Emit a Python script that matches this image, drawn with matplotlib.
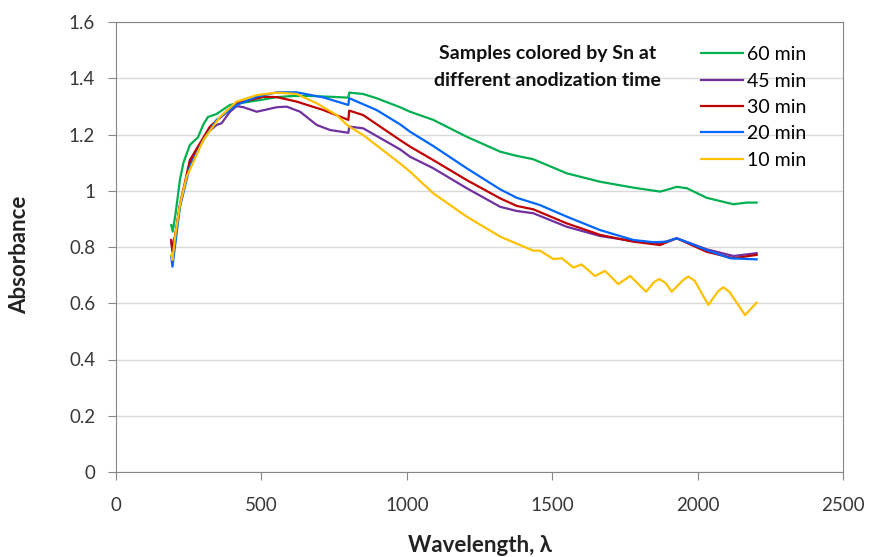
import matplotlib
matplotlib.use('Agg')
import matplotlib.pyplot as plt

# absorbance spectra
wl_60 = [190, 195, 205, 220, 232, 254, 282, 300, 316, 346, 370, 392, 430, 461, 510, 553, 610, 667, 740, 799,
         802, 850, 896, 977, 1011, 1091, 1206, 1321, 1378, 1435, 1550, 1665, 1779, 1871, 1900, 1928, 1963,
         2031, 2123, 2169, 2203]
abs_60 = [0.878, 0.855, 0.92, 1.04, 1.10, 1.163, 1.19, 1.235, 1.262, 1.273, 1.29, 1.305, 1.312, 1.317, 1.325,
          1.333, 1.337, 1.337, 1.334, 1.331, 1.349, 1.344, 1.329, 1.297, 1.281, 1.252, 1.192, 1.139, 1.124,
          1.112, 1.062, 1.032, 1.011, 0.997, 1.005, 1.014, 1.009, 0.975, 0.952, 0.958, 0.958]

wl_45 = [190, 194, 205, 220, 254, 312, 346, 363, 392, 415, 438, 484, 553, 587, 633, 690, 736, 799, 802, 850,
         977, 1011, 1091, 1206, 1321, 1378, 1435, 1550, 1665, 1779, 1871, 1928, 2031, 2123, 2203]
abs_45 = [0.82, 0.79, 0.85, 0.95, 1.097, 1.204, 1.234, 1.24, 1.281, 1.301, 1.297, 1.281, 1.297, 1.299, 1.281,
          1.234, 1.216, 1.206, 1.228, 1.222, 1.147, 1.121, 1.080, 1.009, 0.943, 0.928, 0.920, 0.872, 0.839,
          0.821, 0.813, 0.831, 0.792, 0.768, 0.778]

wl_30 = [190, 194, 205, 220, 254, 323, 415, 507, 553, 621, 713, 799, 802, 850, 977, 1011, 1091, 1206, 1321,
         1378, 1435, 1550, 1665, 1779, 1871, 1928, 2031, 2123, 2203]
abs_30 = [0.825, 0.783, 0.85, 0.95, 1.109, 1.228, 1.311, 1.334, 1.333, 1.317, 1.287, 1.252, 1.285, 1.269,
          1.180, 1.157, 1.109, 1.038, 0.973, 0.946, 0.934, 0.884, 0.843, 0.819, 0.807, 0.831, 0.783, 0.760,
          0.772]

wl_20 = [190, 194, 205, 220, 254, 300, 346, 415, 484, 553, 621, 713, 799, 802, 896, 977, 1011, 1091, 1206,
         1321, 1378, 1458, 1550, 1665, 1779, 1848, 1894, 1928, 1974, 2031, 2112, 2203]
abs_20 = [0.766, 0.730, 0.82, 0.943, 1.086, 1.180, 1.252, 1.305, 1.334, 1.350, 1.350, 1.332, 1.305, 1.329,
          1.287, 1.236, 1.21, 1.159, 1.08, 1.005, 0.975, 0.949, 0.908, 0.860, 0.825, 0.817, 0.819, 0.831,
          0.813, 0.789, 0.760, 0.756]

wl_10 = [190, 194, 205, 220, 243, 300, 358, 415, 484, 553, 621, 690, 759, 799, 850, 977, 1011, 1091, 1206,
         1321, 1389, 1435, 1458, 1504, 1533, 1573, 1601, 1647, 1682, 1727, 1768, 1823, 1850, 1868, 1890,
         1911, 1950, 1968, 1990, 2037, 2070, 2088, 2110, 2163, 2203]
abs_10 = [0.772, 0.754, 0.85, 0.95, 1.05, 1.18, 1.263, 1.317, 1.340, 1.349, 1.344, 1.311, 1.269, 1.230, 1.198,
          1.097, 1.068, 0.991, 0.908, 0.837, 0.807, 0.787, 0.787, 0.757, 0.760, 0.727, 0.738, 0.697, 0.715,
          0.668, 0.697, 0.641, 0.675, 0.686, 0.672, 0.641, 0.682, 0.695, 0.680, 0.594, 0.642, 0.657, 0.640,
          0.558, 0.602]

series = [
    ('60 min', wl_60, abs_60, '#00B050'),
    ('45 min', wl_45, abs_45, '#7030A0'),
    ('30 min', wl_30, abs_30, '#C00000'),
    ('20 min', wl_20, abs_20, '#0066FF'),
    ('10 min', wl_10, abs_10, '#FFC000'),
]

plt.rcParams['font.family'] = ['Lato', 'DejaVu Sans']

fig = plt.figure(figsize=(8.69, 5.57), dpi=100)
ax = fig.add_axes([116/869, 1 - 472/557, 727/869, 450/557])

for name, x, y, col in series:
    ax.plot(x, y, color=col, lw=1.6, label=name, solid_joinstyle='round')

ax.set_xlim(0, 2500)
ax.set_ylim(0, 1.6)
ax.set_xticks([0, 500, 1000, 1500, 2000, 2500])
ax.set_yticks([0, 0.2, 0.4, 0.6, 0.8, 1.0, 1.2, 1.4, 1.6])
ax.set_yticklabels(['0', '0.2', '0.4', '0.6', '0.8', '1', '1.2', '1.4', '1.6'])

ax.grid(axis='y', color='#d9d9d9', lw=1)
ax.set_axisbelow(True)
for s in ax.spines.values():
    s.set_color('#868686')
ax.tick_params(direction='out', length=6, color='#868686', labelsize=13.5, labelcolor='#383838')
ax.tick_params(axis='x', pad=12)
ax.tick_params(axis='y', pad=9)

ax.set_xlabel('Wavelength, λ', fontsize=16, fontweight='bold', color='#222222')
ax.set_ylabel('Absorbance', fontsize=16, fontweight='bold', color='#222222')
ax.xaxis.set_label_coords(0.5, -0.14)
ax.yaxis.set_label_coords(-0.118, 0.482)

ax.text(0.594, 0.929, 'Samples colored by Sn at', transform=ax.transAxes, ha='center', va='center',
        fontsize=14, fontweight='bold', color='#111111')
ax.text(0.594, 0.871, 'different anodization time', transform=ax.transAxes, ha='center', va='center',
        fontsize=14, fontweight='bold', color='#111111')

ax.legend(loc='upper left', bbox_to_anchor=(0.804, 0.946), frameon=False, fontsize=14,
          handlelength=2.2, handletextpad=0.2, labelspacing=0.48, borderpad=0, borderaxespad=0)

fig.savefig('out.png', dpi=100)
